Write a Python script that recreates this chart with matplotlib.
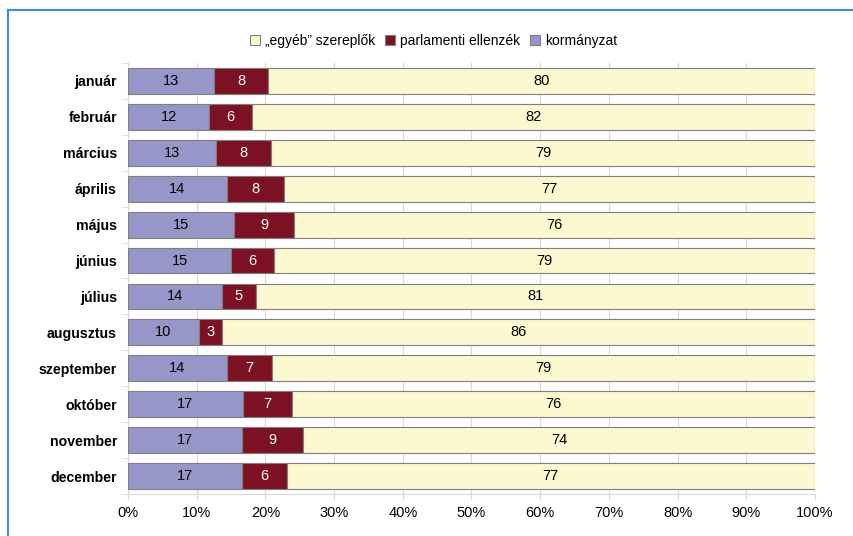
import numpy as np
import matplotlib.pyplot as plt
from matplotlib.lines import Line2D
from matplotlib.ticker import FixedLocator, PercentFormatter

plt.rcParams["font.family"] = ["Liberation Sans", "DejaVu Sans"]

months = ['január', 'február', 'március', 'április', 'május', 'június',
          'július', 'augusztus', 'szeptember', 'október', 'november', 'december']

# shares (%)
gov = [12.5, 11.8, 12.8, 14.4, 15.4, 15.0, 13.7, 10.3, 14.4, 16.7, 16.6, 16.6]
opp = [7.9, 6.2, 8.0, 8.3, 8.8, 6.3, 4.9, 3.4, 6.6, 7.2, 8.9, 6.5]
other = [79.6, 82.0, 79.2, 77.3, 75.8, 78.7, 81.4, 86.3, 79.0, 76.1, 74.5, 76.9]

# labels as printed on the bars
gov_lbl = [13, 12, 13, 14, 15, 15, 14, 10, 14, 17, 17, 17]
opp_lbl = [8, 6, 8, 8, 9, 6, 5, 3, 7, 7, 9, 6]
other_lbl = [80, 82, 79, 77, 76, 79, 81, 86, 79, 76, 74, 77]

C_GOV = '#9696c8'
C_OPP = '#7d1124'
C_OTH = '#fcf8cf'
FS = 10.5

fig = plt.figure(figsize=(8.54, 5.36), dpi=100)
ax = fig.add_axes([0.1499, 0.0784, 0.8044, 0.8041])

y = np.arange(len(months))
g = np.array(gov)
o = np.array(opp)
r = np.array(other)
tot = g + o + r
g, o, r = g / tot * 100, o / tot * 100, r / tot * 100

h = 0.72
ax.barh(y, g, height=h, color=C_GOV, edgecolor='#7f7f7f', lw=0.8, zorder=3)
ax.barh(y, o, left=g, height=h, color=C_OPP, edgecolor='#7f7f7f', lw=0.8, zorder=3)
ax.barh(y, r, left=g + o, height=h, color=C_OTH, edgecolor='#7f7f7f', lw=0.8, zorder=3)

for i in range(len(months)):
    ax.text(g[i] / 2, y[i], str(gov_lbl[i]), ha='center', va='center', fontsize=FS, color='black', zorder=4)
    ax.text(g[i] + o[i] / 2, y[i], str(opp_lbl[i]), ha='center', va='center', fontsize=FS, color='white', zorder=4)
    ax.text(g[i] + o[i] + r[i] / 2, y[i], str(other_lbl[i]), ha='center', va='center', fontsize=FS, color='black', zorder=4)

ax.set_xlim(0, 100)
ax.set_ylim(len(months) - 0.5, -0.5)
ax.set_xticks(np.arange(0, 101, 10))
ax.xaxis.set_major_formatter(PercentFormatter(decimals=0))
ax.set_yticks(y)
ax.set_yticklabels(months, fontweight='bold', fontsize=10.2)
ax.yaxis.set_minor_locator(FixedLocator(np.arange(-0.5, len(months), 1)))
ax.tick_params(axis='y', which='major', length=0, pad=8)
ax.tick_params(axis='y', which='minor', length=5, color='#d9d9d9')
ax.tick_params(axis='x', length=4, color='#d9d9d9', labelsize=FS, pad=5)
ax.grid(axis='x', color='#d9d9d9', lw=0.8, zorder=0)
for s in ['top', 'right']:
    ax.spines[s].set_visible(False)
for s in ['left', 'bottom']:
    ax.spines[s].set_color('#d9d9d9')

handles = [plt.Rectangle((0, 0), 1, 1, fc=C_OTH, ec='#7f7f7f', lw=0.8),
           plt.Rectangle((0, 0), 1, 1, fc=C_OPP, ec='#7f7f7f', lw=0.8),
           plt.Rectangle((0, 0), 1, 1, fc=C_GOV, ec='#7f7f7f', lw=0.8)]
fig.legend(handles, ['„egyéb” szereplők', 'parlamenti ellenzék', 'kormányzat'],
           loc='center', bbox_to_anchor=(0.508, 0.924), ncol=3, frameon=False,
           fontsize=10, handlelength=0.7, handleheight=0.7, handletextpad=0.4,
           columnspacing=0.7)

# blue frame around the chart
fig.add_artist(Line2D([8 / 854, 1], [1 - 10 / 536, 1 - 10 / 536], color='#3a8fd6', lw=1.5))
fig.add_artist(Line2D([8 / 854, 8 / 854], [0, 1 - 10 / 536], color='#3a8fd6', lw=1.5))

fig.savefig('out.png', dpi=100)
